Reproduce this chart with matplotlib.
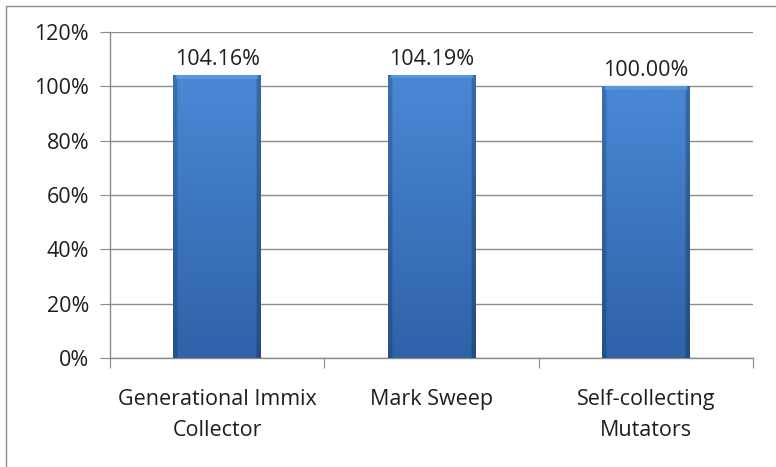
import numpy as np
import matplotlib
matplotlib.use("Agg")
import matplotlib.pyplot as plt
from matplotlib.colors import to_rgb
from matplotlib.patches import Rectangle

categories = ["Generational Immix\nCollector", "Mark Sweep", "Self-collecting\nMutators"]
values = [104.16, 104.19, 100.00]
value_labels = ["104.16%", "104.19%", "100.00%"]
yticks = [0, 20, 40, 60, 80, 100, 120]

plt.rcParams["font.family"] = ["Open Sans", "DejaVu Sans"]
TEXT = "#1e1e1e"
GRID = "#8c8c8c"

fig = plt.figure(figsize=(7.76, 4.67), dpi=100)
fig.patch.set_facecolor("white")
fig.patches.append(Rectangle((6 / 776, -0.05), 1.2, 1 - 6 / 467 + 0.05,
                             transform=fig.transFigure, fill=False,
                             edgecolor="#8c8c8c", linewidth=1.0))

ax = fig.add_axes([110 / 776, 1 - 358 / 467, 643 / 776, 326 / 467])
x = np.arange(len(categories))
bars = ax.bar(x, values, width=0.41, color="#3d74c0", zorder=2)


def bevel_image(nrows=300, ncols=120):
    """Vertical blue gradient with darker side edges and a lighter top bevel."""
    top = np.array(to_rgb("#4a88d6"))
    bot = np.array(to_rgb("#2f62a8"))
    t = np.linspace(0, 1, nrows)[:, None, None]
    img = top * (1 - t) + bot * t
    img = np.repeat(img, ncols, axis=1)
    cols = np.linspace(0, 1, ncols)
    edge = np.ones(ncols)
    edge[cols < 0.05] = 0.82
    edge[cols > 0.95] = 0.78
    img = img * edge[None, :, None]
    bevel_rows = int(nrows * 0.016)
    img[:bevel_rows, 4:-4, :] = np.array(to_rgb("#5a97e0"))
    return np.clip(img, 0, 1)


for b in bars:
    x0, w, h = b.get_x(), b.get_width(), b.get_height()
    im = ax.imshow(bevel_image(), aspect="auto", extent=(x0, x0 + w, 0, h),
                   zorder=3, interpolation="bilinear")
    im.set_clip_path(b)

for xi, v, lab in zip(x, values, value_labels):
    ax.text(xi, v + 2.0, lab, ha="center", va="bottom", fontsize=15.5, color=TEXT)

ax.set_xlim(-0.5, len(categories) - 0.5)
ax.set_ylim(0, 120)
ax.set_yticks(yticks)
ax.set_yticklabels([f"{t}%" for t in yticks], fontsize=15.5, color=TEXT)
ax.yaxis.grid(True, color=GRID, linewidth=1.0, zorder=0)
ax.set_axisbelow(True)

ax.set_xticks(np.arange(len(categories) + 1) - 0.5)
ax.set_xticklabels([])
ax.set_xticks(x, minor=True)
ax.set_xticklabels(categories, minor=True, fontsize=15.5, color=TEXT,
                   linespacing=1.65)
ax.tick_params(axis="x", which="minor", length=0, pad=22)
ax.tick_params(axis="x", which="major", length=7, color=GRID, direction="out")
ax.tick_params(axis="y", length=7, color=GRID, direction="out", pad=8)

for s in ["top", "right"]:
    ax.spines[s].set_visible(False)
for s in ["left", "bottom"]:
    ax.spines[s].set_color(GRID)
    ax.spines[s].set_linewidth(1.0)

fig.savefig("out.png", dpi=100, facecolor="white")
